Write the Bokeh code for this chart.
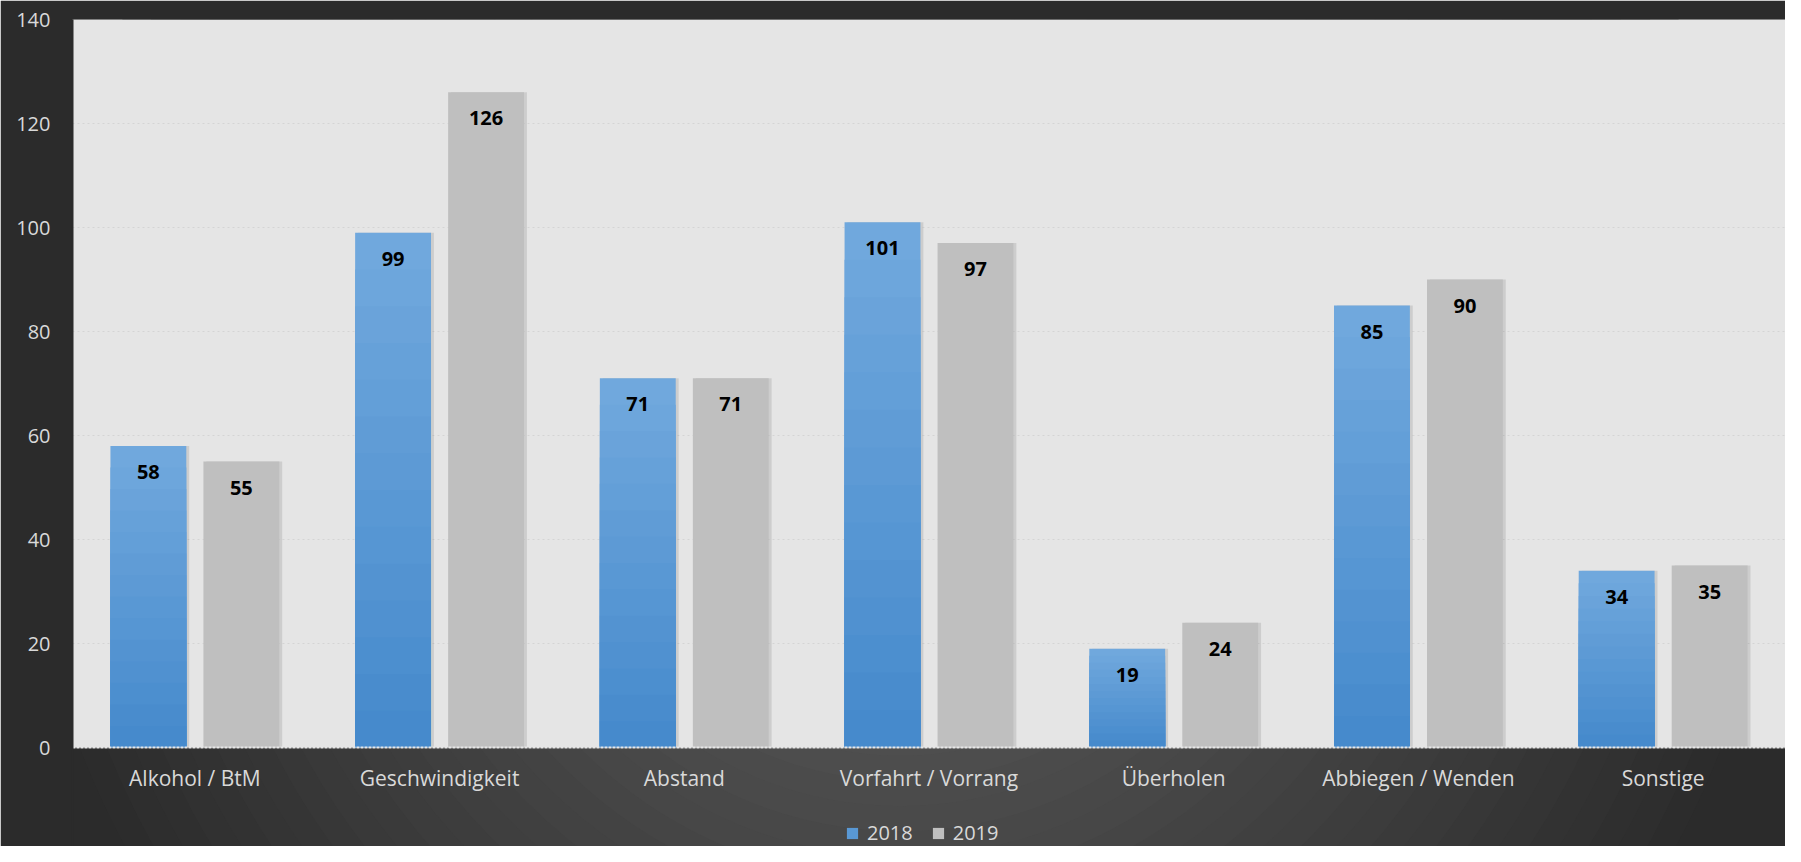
from bokeh.plotting import figure
from bokeh.models import (FactorRange, ColumnDataSource, Legend, LegendItem, FixedTicker,
                          BoxAnnotation)
from bokeh.transform import dodge
from bokeh.embed import file_html
from bokeh.resources import INLINE
from bokeh.core.properties import value
import numpy as np

categories = ["Alkohol / BtM", "Geschwindigkeit", "Abstand", "Vorfahrt / Vorrang",
              "Überholen", "Abbiegen / Wenden", "Sonstige"]
years = ["2018", "2019"]
values_2018 = [58, 99, 71, 101, 19, 85, 34]
values_2019 = [55, 126, 71, 97, 24, 90, 35]
y_ticks = [0, 20, 40, 60, 80, 100, 120, 140]

FONT = "Open Sans"
TXT = "#d9d9d9"
BG = "#2b2b2b"
PLOT_BG = "#e5e5e5"
GRAY = "#bfbfbf"

# layout in pixels (figure coordinates)
FIG_W, FIG_H = 1785, 846
LEFT_PX = 72
TOP_PX, ZERO_PX = 19, 747          # y of value 140 and of value 0
Y_MAX = 140
Y_MIN = -Y_MAX * (FIG_H - ZERO_PX) / (ZERO_PX - TOP_PX)   # frame extends to figure bottom

p = figure(x_range=FactorRange(*categories), y_range=(Y_MIN, Y_MAX),
           width=FIG_W, height=FIG_H, output_backend="svg", toolbar_location=None,
           min_border_left=LEFT_PX, min_border_right=0, min_border_top=TOP_PX,
           min_border_bottom=0)
p.border_fill_color = BG
p.background_fill_color = BG
p.outline_line_color = None

# soft radial glow of the dark background (centre of the picture)
n_cat = len(categories)
cx = (900 - LEFT_PX) / (FIG_W - LEFT_PX) * n_cat
cy = Y_MAX * (ZERO_PX - 430) / (ZERO_PX - TOP_PX)
radii = np.linspace(880, 300, 24)
shades = np.linspace(44, 80, 24).round().astype(int)
glow = ColumnDataSource(dict(x=[cx] * len(radii), y=[cy] * len(radii), r=list(radii),
                             c=["#%02x%02x%02x" % (s, s, s) for s in shades]))
p.circle(x="x", y="y", radius="r", radius_units="screen", source=glow,
         fill_color="c", line_color=None, level="image")

# light plotting area above the zero line
plot_area = BoxAnnotation(bottom=0, fill_color=PLOT_BG, fill_alpha=1.0, line_color=None,
                          level="underlay")
p.center = [plot_area] + list(p.center)

src = ColumnDataSource(dict(cat=categories, v18=values_2018, v19=values_2019))

OFF = 0.19
W = 0.31
xr = p.x_range

# subtle shadows
p.vbar(x=dodge("cat", -OFF + 0.012, range=xr), top="v18", width=W, source=src,
       fill_color="black", fill_alpha=0.10, line_color=None)
p.vbar(x=dodge("cat", OFF + 0.012, range=xr), top="v19", width=W, source=src,
       fill_color="black", fill_alpha=0.10, line_color=None)

# blue bars with vertical gradient (light top -> darker bottom)
N = 14
light = np.array([112, 168, 221])
dark = np.array([70, 138, 204])
v18 = np.array(values_2018, dtype=float)
blue_renderers = []
for k in range(N):
    t = k / (N - 1)
    c = (light * (1 - t) + dark * t).round().astype(int)
    col = "#%02x%02x%02x" % tuple(c)
    s = ColumnDataSource(dict(cat=categories, top=list(v18 * (1 - k / N))))
    r = p.vbar(x=dodge("cat", -OFF, range=xr), top="top", width=W, source=s,
               fill_color=col, line_color=None)
    blue_renderers.append(r)

r19 = p.vbar(x=dodge("cat", OFF, range=xr), top="v19", width=W, source=src,
             fill_color=GRAY, line_color=None)

# value labels
for fld, off in (("v18", -OFF), ("v19", OFF)):
    p.text(x=dodge("cat", off, range=xr), y=fld, text=fld, source=src,
           text_align="center", text_baseline="middle", y_offset=26,
           text_font=value(FONT), text_font_style="bold", text_font_size="20px",
           text_color="black")

# grid (faint dotted)
p.xgrid.grid_line_color = None
p.ygrid.ticker = FixedTicker(ticks=y_ticks[1:])
p.ygrid.grid_line_color = "#d4d4d4"
p.ygrid.grid_line_width = 1
p.ygrid.grid_line_dash = "2 3"

# y axis (its line, in background colour, hides the frame seam)
p.yaxis.ticker = FixedTicker(ticks=y_ticks)
p.yaxis.axis_line_color = BG
p.yaxis.axis_line_width = 2
p.yaxis.major_tick_line_color = None
p.yaxis.minor_tick_line_color = None
p.yaxis.major_tick_out = 0
p.yaxis.major_tick_in = 0
p.yaxis.major_label_standoff = 22
p.yaxis.major_label_text_font = FONT
p.yaxis.major_label_text_font_size = "20px"
p.yaxis.major_label_text_color = TXT

# x axis drawn at value 0
p.xaxis.fixed_location = 0
p.xaxis.axis_line_color = "#e8e8e8"
p.xaxis.axis_line_width = 2
p.xaxis.axis_line_dash = "3 1"
p.xaxis.major_tick_line_color = None
p.xaxis.major_tick_out = 0
p.xaxis.major_tick_in = 0
p.xaxis.major_label_standoff = 16
p.xaxis.major_label_text_font = FONT
p.xaxis.major_label_text_font_size = "21px"
p.xaxis.major_label_text_color = TXT

legend = Legend(items=[LegendItem(label=years[0], renderers=[blue_renderers[N // 2]]),
                       LegendItem(label=years[1], renderers=[r19])],
                location=(773, 0), orientation="horizontal",
                background_fill_alpha=0, border_line_alpha=0,
                label_text_color=TXT, label_text_font=FONT, label_text_font_size="20px",
                glyph_width=14, glyph_height=14, label_standoff=8, spacing=18,
                padding=0, margin=0, label_height=20)
p.add_layout(legend)

open("out.html", "w").write(file_html(p, INLINE))
